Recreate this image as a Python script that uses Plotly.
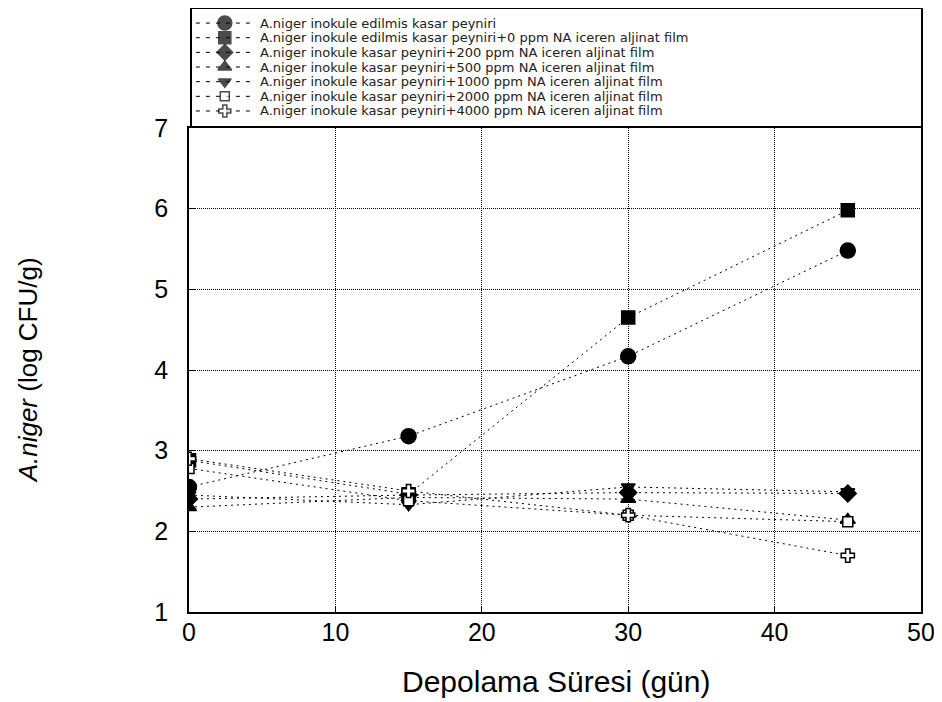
import plotly.graph_objects as go

# ---- data ----
days = [0, 15, 30, 45]
series_names = [
    "A.niger inokule edilmis kasar peyniri",
    "A.niger inokule edilmis kasar peyniri+0 ppm NA iceren aljinat film",
    "A.niger inokule kasar peyniri+200 ppm NA iceren aljinat film",
    "A.niger inokule kasar peyniri+500 ppm NA iceren aljinat film",
    "A.niger inokule kasar peyniri+1000 ppm NA iceren aljinat film",
    "A.niger inokule kasar peyniri+2000 ppm NA iceren aljinat film",
    "A.niger inokule kasar peyniri+4000 ppm NA iceren aljinat film",
]
control = [2.55, 3.18, 4.17, 5.48]
film_0ppm = [2.88, 2.46, 4.65, 5.98]
film_200ppm = [2.40, 2.45, 2.48, 2.47]
film_500ppm = [2.30, 2.42, 2.40, 2.14]
film_1000ppm = [2.45, 2.33, 2.55, 2.49]
film_2000ppm = [2.78, 2.38, 2.20, 2.12]
film_4000ppm = [2.90, 2.50, 2.20, 1.70]
values = [control, film_0ppm, film_200ppm, film_500ppm, film_1000ppm, film_2000ppm, film_4000ppm]

x_ticks = [0, 10, 20, 30, 40, 50]
y_ticks = [1, 2, 3, 4, 5, 6, 7]

# ---- styles ----
symbols = ["circle", "square", "diamond", "triangle-up", "triangle-down", "square", "cross"]
fills = ["black", "black", "black", "black", "black", "white", "white"]
sizes = [15, 13, 13, 13, 12, 10, 11]
FONT = "Liberation Sans, Arial, sans-serif"
LEG_FONT = "DejaVu Sans, Liberation Sans, sans-serif"
DASH = "2px,4px"

fig = go.Figure()

for name, vals, sym, fc, sz in zip(series_names, values, symbols, fills, sizes):
    fig.add_trace(go.Scatter(
        x=days, y=vals, mode="lines+markers", name=name, showlegend=False,
        line=dict(color="black", width=1, dash=DASH),
        marker=dict(symbol=sym, size=sz, color=fc, line=dict(color="black", width=1.5)),
        xaxis="x", yaxis="y",
    ))

# ---- custom legend (drawn in its own small pixel-scaled axes) ----
LEG_W, LEG_H = 732, 118
row0, row_step = 14, 14.8
for i, (name, sym, fc, sz) in enumerate(zip(series_names, symbols, fills, sizes)):
    ry = LEG_H - (row0 + i * row_step)
    fig.add_trace(go.Scatter(
        x=[4, 33, 63], y=[ry, ry, ry], mode="lines+markers", showlegend=False,
        hoverinfo="skip",
        line=dict(color="black", width=1, dash="4px,6px"),
        marker=dict(symbol=sym, size=[0, sz - 1, 0], color=fc,
                    line=dict(color="black", width=[0, 1.5, 0])),
        xaxis="x2", yaxis="y2",
    ))
    fig.add_annotation(x=66, y=ry, xref="x2", yref="y2", text=name, showarrow=False,
                       xanchor="left", yanchor="middle",
                       font=dict(family=LEG_FONT, size=13, color="#222"))

# titles
fig.add_annotation(x=-0.22, y=0.40, xref="paper", yref="paper",
                   text="<i>A.niger</i> (log CFU/g)", textangle=-90, showarrow=False,
                   xanchor="center", yanchor="middle",
                   font=dict(family=FONT, size=26, color="black"))
fig.add_annotation(x=0.501, y=-0.1155, xref="paper", yref="paper",
                   text="Depolama Süresi (gün)", showarrow=False,
                   xanchor="center", yanchor="middle",
                   font=dict(family=FONT, size=30, color="black"))

axis_common = dict(showline=True, mirror=True, linecolor="black", linewidth=1.5,
                   ticks="inside", ticklen=6, tickcolor="black",
                   showgrid=True, gridcolor="black", griddash="1px,1px", gridwidth=1,
                   zeroline=False, tickfont=dict(size=25), automargin=False)

fig.update_layout(
    width=930, height=694,
    margin=dict(l=181, r=17, t=0, b=90, autoexpand=False),
    paper_bgcolor="white", plot_bgcolor="white",
    font=dict(family=FONT, color="black"),
    xaxis=dict(range=[0, 50], tickvals=x_ticks, domain=[0, 1], anchor="y",
               ticklabelstandoff=-3, ticklabeloverflow="allow", **axis_common),
    yaxis=dict(range=[1, 7], tickvals=y_ticks, domain=[0, 0.8013], anchor="x",
               ticklabelstandoff=14, **axis_common),
    xaxis2=dict(range=[0, LEG_W], domain=[0.004, 1.0], anchor="y2",
                showline=True, mirror=True, linecolor="black", linewidth=1.5,
                showgrid=False, zeroline=False, showticklabels=False, ticks="",
                fixedrange=True, automargin=False),
    yaxis2=dict(range=[0, LEG_H], domain=[0.8046, 0.998], anchor="x2",
                showline=True, mirror=True, linecolor="black", linewidth=1.5,
                showgrid=False, zeroline=False, showticklabels=False, ticks="",
                fixedrange=True, automargin=False),
)

fig.write_html("out.html")
